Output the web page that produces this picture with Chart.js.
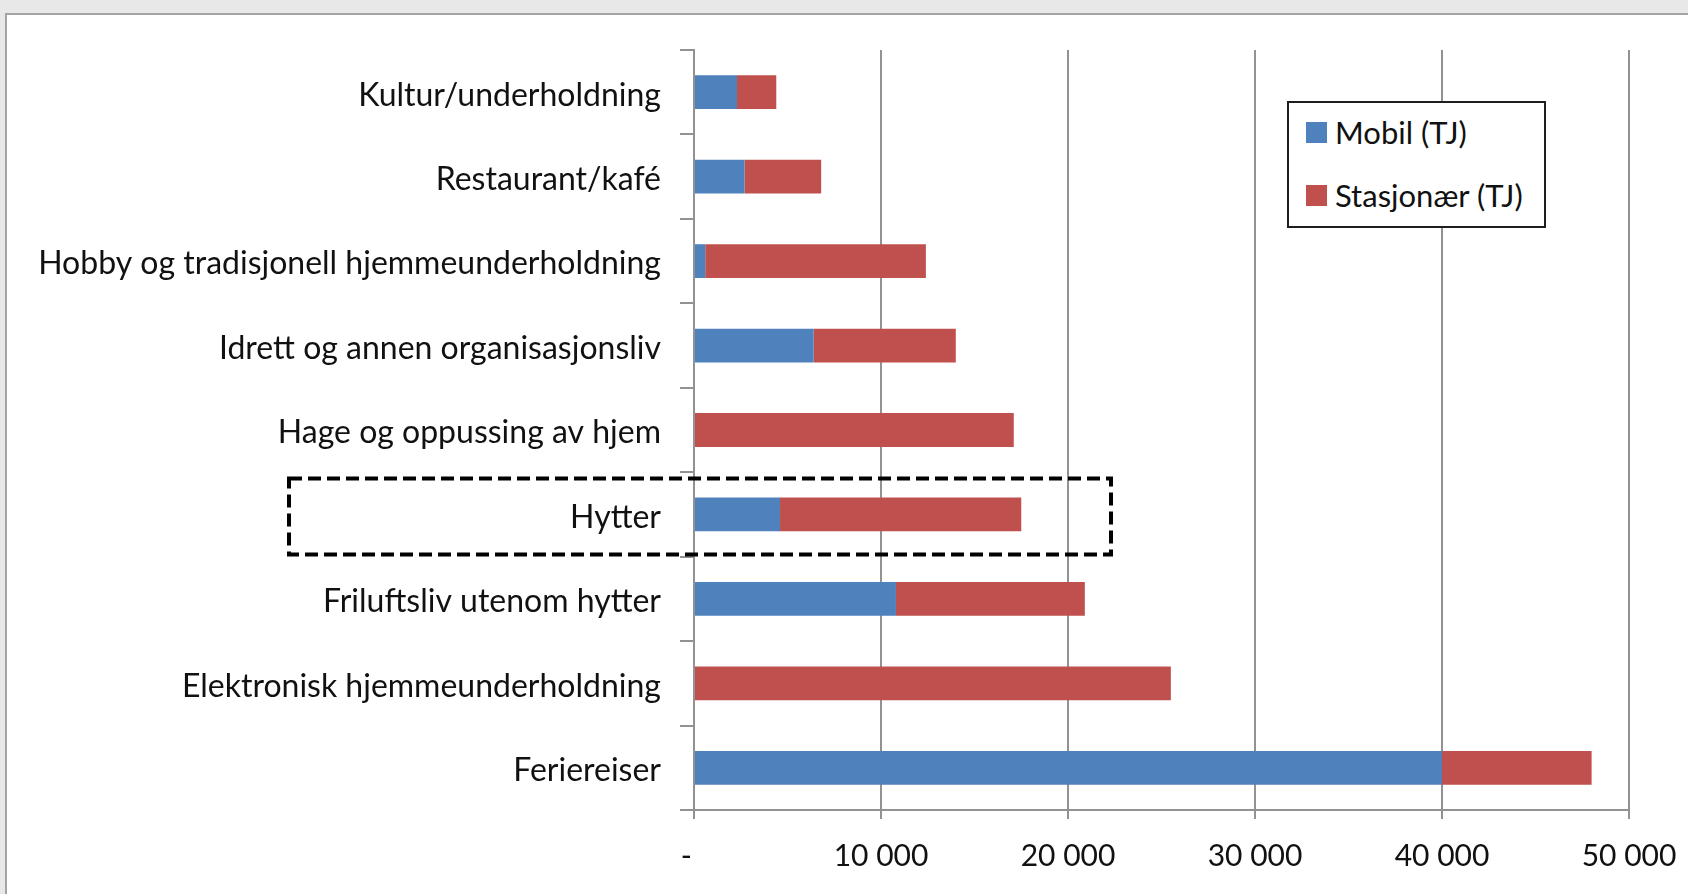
<!DOCTYPE html>
<html>
<head>
<meta charset="utf-8">
<script src="https://cdn.jsdelivr.net/npm/chart.js@4.4.1/dist/chart.umd.min.js"></script>
<style>
    html, body { margin: 0; padding: 0; }
    body { width: 1688px; height: 894px; background: #e8e8e8; position: relative; overflow: hidden; font-family: Lato, "Noto Sans", sans-serif; }
    #frame { position: absolute; left: 5px; top: 13px; width: 1720px; height: 920px; background: #fff; border-left: 2px solid #a4a4a4; border-top: 2px solid #a4a4a4; }
    #chart-wrap { position: absolute; left: 0; top: 0; width: 1688px; height: 894px; }
    #legend { position: absolute; left: 1287px; top: 101px; width: 255px; height: 123px; border: 2px solid #1e1e1e; background: #fff; box-sizing: content-box; }
    #legend .item { position: absolute; left: 17px; height: 24px; display: flex; align-items: center; font-size: 31px; color: #111; white-space: nowrap; }
    #legend .swatch { width: 21px; height: 21px; margin-right: 8px; flex: none; }
</style>
</head>
<body>
<div id="frame"></div>
<div id="chart-wrap"><canvas id="chart" width="1688" height="894"></canvas></div>
<div id="legend"></div>
<script>
// kategorier, fra topp til bunn
const kategorier = [
    "Kultur/underholdning",
    "Restaurant/kafé",
    "Hobby og tradisjonell hjemmeunderholdning",
    "Idrett og annen organisasjonsliv",
    "Hage og oppussing av hjem",
    "Hytter",
    "Friluftsliv utenom hytter",
    "Elektronisk hjemmeunderholdning",
    "Feriereiser"
];

// verdier lest av figuren (TJ)
const mobil = [2300, 2700, 600, 6400, 0, 4600, 10800, 0, 40000];
const stasjonaer = [2100, 4100, 11800, 7600, 17100, 12900, 10100, 25500, 8000];

const serieNavn = ["Mobil (TJ)", "Stasjonær (TJ)"];
const farger = ["#4f81bd", "#c0504d"];

const xTicks = [0, 10000, 20000, 30000, 40000, 50000];

// markering rundt "Hytter"
const markertKategori = "Hytter";
const markertTilVerdi = 22300;

const GRID = "#929292";
const FONT = "Lato, 'Noto Sans', sans-serif";

function formatTall(v) {
    if (v === 0) return "-  ";
    return String(v).replace(/\B(?=(\d{3})+(?!\d))/g, " ");
}

const dashedBox = {
    id: "dashedBox",
    afterDraw(chart) {
        const ctx = chart.ctx;
        const y = chart.scales.y;
        const x = chart.scales.x;
        const idx = kategorier.indexOf(markertKategori);
        const cy = y.getPixelForValue(idx);
        const left = 289;
        const right = x.getPixelForValue(markertTilVerdi);
        ctx.save();
        ctx.strokeStyle = "#000";
        ctx.lineWidth = 4;
        ctx.setLineDash([13, 6]);
        ctx.strokeRect(left, cy - 36, right - left, 76);
        ctx.restore();
    }
};

const chart = new Chart(document.getElementById("chart"), {
    type: "bar",
    data: {
        labels: kategorier,
        datasets: [
            { label: serieNavn[0], data: mobil, backgroundColor: farger[0], borderWidth: 0 },
            { label: serieNavn[1], data: stasjonaer, backgroundColor: farger[1], borderWidth: 0 }
        ]
    },
    options: {
        indexAxis: "y",
        responsive: false,
        animation: false,
        categoryPercentage: 0.8,
        barPercentage: 0.5,
        layout: { padding: { top: 50, right: 59, left: 0, bottom: 0 } },
        plugins: {
            legend: { display: false },
            tooltip: { enabled: false }
        },
        scales: {
            x: {
                stacked: true,
                min: 0,
                max: 50000,
                afterBuildTicks: s => { s.ticks = xTicks.map(v => ({ value: v })); },
                afterFit: s => { s.height = 84; s.paddingLeft = 0; s.paddingRight = 0; },
                grid: { color: GRID, lineWidth: 2, tickLength: 9, tickColor: GRID },
                border: { color: GRID, width: 2 },
                ticks: {
                    padding: 19,
                    color: "#111",
                    font: { family: FONT, size: 30 },
                    maxRotation: 0,
                    callback: v => formatTall(v)
                }
            },
            y: {
                stacked: true,
                afterFit: s => { s.width = 694; s.paddingTop = 0; s.paddingBottom = 0; },
                grid: { offset: true, drawOnChartArea: false, color: GRID, lineWidth: 2, tickLength: 14 },
                border: { color: GRID, width: 2 },
                ticks: {
                    padding: 19,
                    labelOffset: 3,
                    color: "#111",
                    font: { family: FONT, size: 32 }
                }
            }
        }
    },
    plugins: [dashedBox]
});

// legende
const legend = document.getElementById("legend");
chart.data.datasets.forEach((ds, i) => {
    const item = document.createElement("div");
    item.className = "item";
    item.style.top = (i === 0 ? 17 : 80) + "px";
    item.innerHTML = `<span class="swatch" style="background:${ds.backgroundColor}"></span>${ds.label}`;
    legend.appendChild(item);
});
</script>
</body>
</html>
